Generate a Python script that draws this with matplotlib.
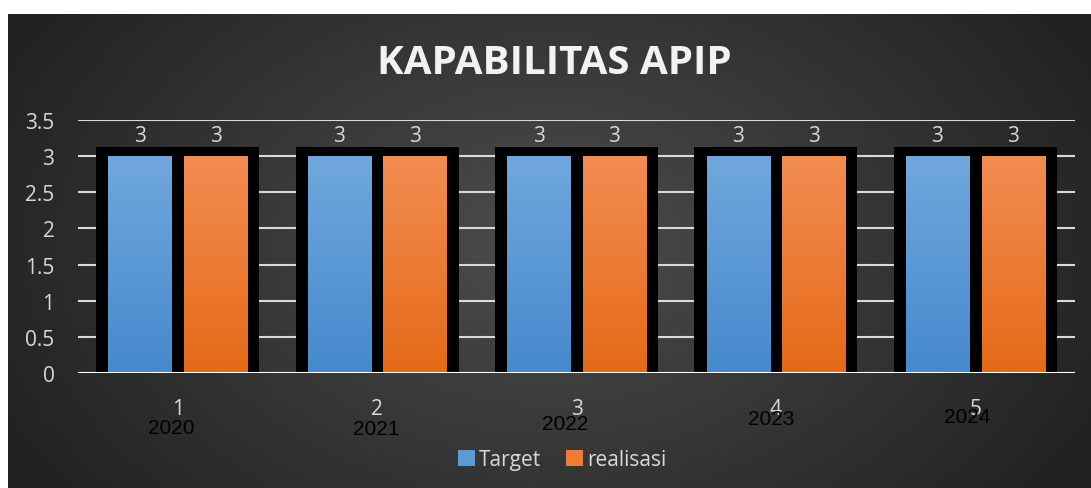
import numpy as np
import matplotlib
matplotlib.use("Agg")
import matplotlib.pyplot as plt
from matplotlib.patches import Patch

categories = ["1", "2", "3", "4", "5"]
years = ["2020", "2021", "2022", "2023", "2024"]
target = [3, 3, 3, 3, 3]
realisasi = [3, 3, 3, 3, 3]

# posisi label tahun (offset piksel, dipasang manual seperti di Excel)
year_dx = [-6, -1, -11, -5, -8]
year_dy = [0, -1, 4, 9, 11]

fig = plt.figure(figsize=(10.91, 4.89), dpi=100)
fig.patch.set_facecolor("white")

# latar belakang gradasi radial
bg = fig.add_axes([8 / 1091, 0, 1 - 8 / 1091, 1 - 15 / 489])
bg.set_axis_off()
yy, xx = np.mgrid[0:474, 0:1083]
r = np.sqrt(((xx - 540) / 620) ** 2 + ((yy - 230) / 420) ** 2)
shade = np.clip(0.30 - 0.17 * r, 0.13, 0.30)
bg.imshow(np.dstack([shade] * 3), aspect="auto", extent=[0, 1, 0, 1])
bg.set_xlim(0, 1)
bg.set_ylim(0, 1)

ax = fig.add_axes([78 / 1091, 115 / 489, 997 / 1091, 253 / 489])
ax.set_facecolor("none")
x = np.arange(len(categories))
w = 0.316
off = 0.19

ax.set_ylim(0, 3.5)
ax.set_xlim(-0.5, len(categories) - 0.5)
ax.set_yticks(np.arange(0, 3.51, 0.5))
ax.set_yticklabels(["0", "0.5", "1", "1.5", "2", "2.5", "3", "3.5"])
ax.grid(axis="y", color="#d9d9d9", linewidth=1.5, zorder=0)
ax.set_axisbelow(True)
for s in ax.spines.values():
    s.set_visible(False)
ax.tick_params(axis="both", length=0, colors="#d9d9d9", labelsize=15)
ax.tick_params(axis="y", pad=17)
ax.tick_params(axis="x", pad=18)
ax.set_xticks(x)
ax.set_xticklabels(categories)
for lab in ax.get_yticklabels() + ax.get_xticklabels():
    lab.set_fontfamily("Open Sans")

# kotak hitam di belakang tiap kelompok
top = max(max(target), max(realisasi)) + 0.125
ax.bar(x, [top] * len(x), width=0.817, color="black", zorder=2)


def grad_bar(xs, vals, c_top, c_bot):
    bars = ax.bar(xs, vals, width=w, color=c_top, zorder=3)
    g = np.linspace(0, 1, 100)[:, None]
    ct = np.array(matplotlib.colors.to_rgb(c_top))
    cb = np.array(matplotlib.colors.to_rgb(c_bot))
    img = ct[None, None, :] * (1 - g[..., None]) + cb[None, None, :] * g[..., None]
    img = np.repeat(img, 2, axis=1)
    for b in bars:
        x0, y0 = b.get_x(), b.get_y()
        im = ax.imshow(img, extent=[x0, x0 + b.get_width(), y0, y0 + b.get_height()],
                       aspect="auto", zorder=3.5)
        im.set_clip_path(b)
    return bars


grad_bar(x - off, target, "#70a7dd", "#4689ce")
grad_bar(x + off, realisasi, "#f28c52", "#e56a17")
ax.set_xlim(-0.5, len(categories) - 0.5)
ax.set_ylim(0, 3.5)

ax.axhline(0, color="white", linewidth=2.2, zorder=5)

for i in range(len(x)):
    ax.text(x[i] - off, 3.28, str(target[i]), ha="center", va="center",
            color="#d9d9d9", fontsize=15, family="Open Sans")
    ax.text(x[i] + off, 3.28, str(realisasi[i]), ha="center", va="center",
            color="#d9d9d9", fontsize=15, family="Open Sans")

for i, yr in enumerate(years):
    ax.annotate(yr, xy=(x[i], 0), xycoords="data",
                xytext=(year_dx[i] * 0.72, (-55 + year_dy[i]) * 0.72), textcoords="offset points",
                ha="center", va="center", color="black", fontsize=15,
                family="Liberation Sans", annotation_clip=False)

fig.text(554 / 1091, 1 - 64 / 489, "KAPABILITAS APIP", ha="center", va="center",
         color="#f2f2f2", fontsize=29, fontweight="bold", family="Open Sans")

handles = [Patch(facecolor="#5b9bd5", edgecolor="none", label="Target"),
           Patch(facecolor="#ed7d31", edgecolor="none", label="realisasi")]
leg = fig.legend(handles=handles, loc="center", bbox_to_anchor=(562 / 1091, 1 - 461 / 489),
                 ncol=2, frameon=False, handlelength=0.8, handleheight=0.8,
                 handletextpad=0.2, columnspacing=1.2,
                 prop={"family": "Open Sans", "size": 15})
for t in leg.get_texts():
    t.set_color("#d9d9d9")

fig.savefig("out.png", dpi=100)
